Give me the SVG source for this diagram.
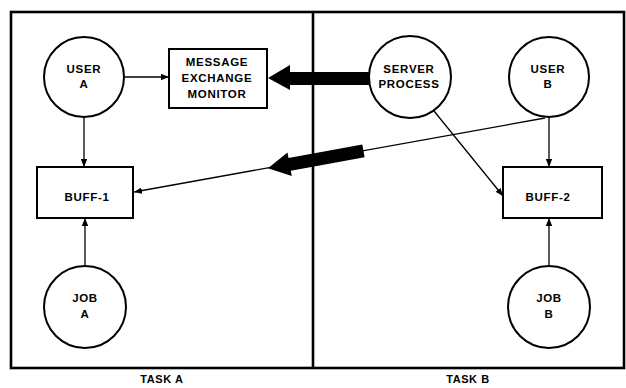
<svg xmlns="http://www.w3.org/2000/svg" width="626" height="388" viewBox="0 0 626 388">
<defs>
<style>
.frame{fill:none;stroke:#000;stroke-width:2.6}
.node{fill:#fff;stroke:#000;stroke-width:2}
.t{font-family:"Liberation Sans",Arial,sans-serif;font-weight:bold;font-size:11.5px;text-anchor:middle;fill:#000;letter-spacing:0.7px}
.lbl{font-family:"Liberation Sans",Arial,sans-serif;font-weight:bold;font-size:11px;text-anchor:middle;fill:#000;letter-spacing:0.6px}
.c{fill:none;stroke:#000;stroke-width:1.3}
.thick{fill:#000;stroke:none}
</style>
<marker id="ah" viewBox="0 0 10 8" refX="10" refY="4" markerWidth="8" markerHeight="6.4" markerUnits="userSpaceOnUse" orient="auto">
<path d="M0,0 L10,4 L0,8 Z" fill="#000"/>
</marker>
</defs>
<g id="frame">
<rect class="frame" x="11" y="12" width="613" height="356"/>
<line class="frame" x1="313" y1="12" x2="313" y2="368"/>
<text class="lbl" x="162" y="383">TASK A</text>
<text class="lbl" x="468" y="383">TASK B</text>
</g>
<g id="connectors">
<line class="c" x1="124" y1="77" x2="169" y2="77" marker-end="url(#ah)"/>
<line class="c" x1="84" y1="117" x2="84" y2="167" marker-end="url(#ah)"/>
<line class="c" x1="85" y1="266" x2="85" y2="218" marker-end="url(#ah)"/>
<line class="c" x1="549" y1="118" x2="549" y2="167" marker-end="url(#ah)"/>
<line class="c" x1="549" y1="266" x2="549" y2="218" marker-end="url(#ah)"/>
<line class="c" x1="434" y1="111" x2="503" y2="196" marker-end="url(#ah)"/>
<line class="c" x1="545" y1="118" x2="134" y2="192" marker-end="url(#ah)"/>
<polygon class="thick" points="268,78 290,65 290,72 372,72 372,85 290,85 290,90"/>
<polygon class="thick" transform="translate(268,168.2) rotate(-10.26)" points="0,0 22,-12 22,-6.5 97,-6.5 97,6.5 22,6.5 22,12"/>
</g>
<g id="userA">
<circle class="node" cx="84" cy="77" r="40"/>
<text class="t" x="84" y="73">USER</text>
<text class="t" x="84" y="88">A</text>
</g>
<g id="mem">
<rect class="node" x="169" y="49" width="98" height="59"/>
<text class="t" x="217" y="66">MESSAGE</text>
<text class="t" x="217" y="82">EXCHANGE</text>
<text class="t" x="217" y="98">MONITOR</text>
</g>
<g id="server">
<circle class="node" cx="410" cy="77" r="41"/>
<text class="t" x="409" y="73">SERVER</text>
<text class="t" x="409" y="88">PROCESS</text>
</g>
<g id="userB">
<circle class="node" cx="549" cy="77" r="40"/>
<text class="t" x="548" y="73">USER</text>
<text class="t" x="548" y="88">B</text>
</g>
<g id="buff1">
<rect class="node" x="37" y="167" width="96" height="51"/>
<text class="t" x="87" y="201">BUFF-1</text>
</g>
<g id="buff2">
<rect class="node" x="503" y="167" width="99" height="51"/>
<text class="t" x="548" y="201">BUFF-2</text>
</g>
<g id="jobA">
<circle class="node" cx="85" cy="307" r="41"/>
<text class="t" x="85" y="302">JOB</text>
<text class="t" x="85" y="318">A</text>
</g>
<g id="jobB">
<circle class="node" cx="549" cy="307" r="41"/>
<text class="t" x="549" y="302">JOB</text>
<text class="t" x="549" y="318">B</text>
</g>
</svg>
